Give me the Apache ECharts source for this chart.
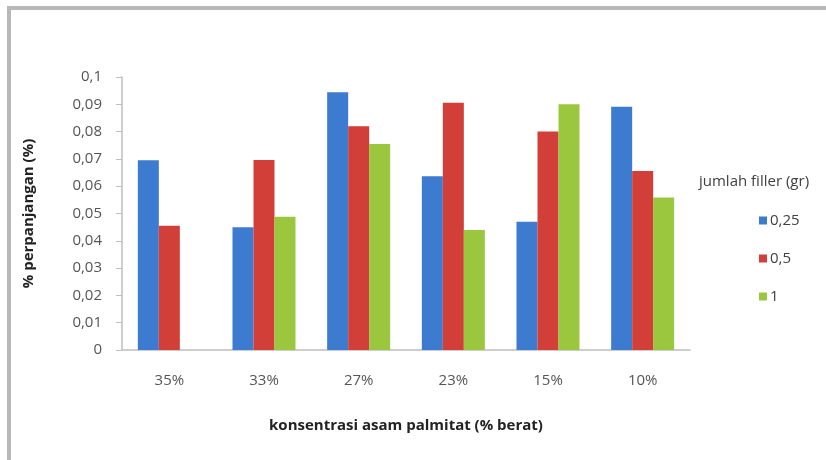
<!DOCTYPE html>
<html>
<head>
<meta charset="utf-8">
<script src="https://cdn.jsdelivr.net/npm/echarts@6/dist/echarts.min.js"></script>
<style>
  html, body { margin: 0; padding: 0; background: #fff; }
  #chart { width: 826px; height: 460px; }
</style>
</head>
<body>
<div id="chart"></div>
<script>
// Palmitic acid concentration (% by weight) on the x axis
const categories = ['35%', '33%', '27%', '23%', '15%', '10%'];
// Elongation (%) per filler amount (gr)
const filler025 = [0.0695, 0.045, 0.0944, 0.0636, 0.047, 0.0891];
const filler05  = [0.0455, 0.0696, 0.082, 0.0906, 0.080, 0.0656];
const filler1   = [null, 0.0488, 0.0755, 0.044, 0.090, 0.0559];
const seriesNames = ['0,25', '0,5', '1'];
const yTicks = [0, 0.01, 0.02, 0.03, 0.04, 0.05, 0.06, 0.07, 0.08, 0.09, 0.1];

const colors = ['#3d7bd0', '#d23f38', '#9bc73f'];
const font = '"Open Sans", "Liberation Sans", sans-serif';

const chart = echarts.init(document.getElementById('chart'), null, { renderer: 'canvas' });

const fmt = v => {
  const t = yTicks.find(x => Math.abs(x - v) < 1e-9);
  return t === undefined ? '' : String(t).replace('.', ',');
};

chart.setOption({
  animation: false,
  color: colors,
  textStyle: { fontFamily: font },
  grid: { left: 122, right: 136, top: 77, bottom: 110, containLabel: false },
  graphic: [
    {
      type: 'rect',
      shape: { x: 9, y: 8, width: 900, height: 600 },
      style: { fill: 'none', stroke: '#b8b8b8', lineWidth: 4 },
      silent: true
    },
    {
      type: 'text',
      left: 699, top: 174,
      style: { text: 'jumlah filler (gr)', font: '15px ' + font, fill: '#404040' }
    }
  ],
  legend: {
    orient: 'vertical',
    left: 754, top: 208,
    itemWidth: 8, itemHeight: 8, itemGap: 23,
    icon: 'rect',
    textStyle: { fontSize: 15, color: '#404040', fontFamily: font, padding: [0, 0, 0, -2] },
    data: seriesNames
  },
  xAxis: {
    type: 'category',
    data: categories,
    name: 'konsentrasi asam palmitat (% berat)',
    nameLocation: 'middle',
    nameGap: 68,
    nameTextStyle: { fontSize: 15, fontWeight: 'bold', color: '#222', fontFamily: font },
    axisLine: { lineStyle: { color: '#bfbfbf', width: 1.5 } },
    axisTick: { show: false },
    axisLabel: { fontSize: 15, color: '#555', margin: 23, fontFamily: font }
  },
  yAxis: {
    type: 'value',
    min: 0, max: 0.1, interval: 0.01,
    name: '% perpanjangan (%)',
    nameLocation: 'middle',
    nameGap: 86,
    nameRotate: 90,
    nameTextStyle: { fontSize: 15, fontWeight: 'bold', color: '#222', fontFamily: font },
    axisLine: { show: true, lineStyle: { color: '#bfbfbf', width: 1.5 } },
    axisTick: { show: true, inside: false, length: 6, lineStyle: { color: '#bfbfbf' } },
    splitLine: { show: false },
    axisLabel: { fontSize: 15, color: '#555', margin: 20, fontFamily: font, formatter: fmt }
  },
  series: [
    { name: seriesNames[0], type: 'bar', data: filler025, barWidth: 21, barGap: '0%' },
    { name: seriesNames[1], type: 'bar', data: filler05, barWidth: 21, barGap: '0%' },
    { name: seriesNames[2], type: 'bar', data: filler1, barWidth: 21, barGap: '0%' }
  ]
});
</script>
</body>
</html>
